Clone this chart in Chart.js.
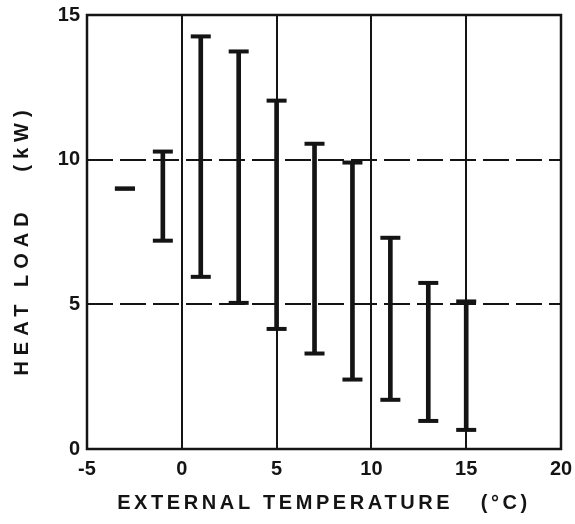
<!DOCTYPE html>
<html>
  <head>
    <meta charset="UTF-8" />
    <title>Heat Load</title>
    <script src="https://cdn.jsdelivr.net/npm/chart.js"></script>
    <style>
      html,
      body {
        margin: 0;
        padding: 0;
        background: #fff;
      }
      #wrap {
        width: 575px;
        height: 524px;
      }
    </style>
  </head>
  <body>
    <div id="wrap"><canvas id="heatChart"></canvas></div>
    <script>
      // external temperature (°C) and heat load range (kW)
      const temps = [-3, -1, 1, 3, 5, 7, 9, 11, 13, 15];
      const lows = [9.0, 7.2, 5.95, 5.05, 4.15, 3.3, 2.4, 1.7, 0.97, 0.66];
      const highs = [9.0, 10.28, 14.26, 13.74, 12.04, 10.55, 9.9, 7.3, 5.74, 5.1];
      const xTicks = [-5, 0, 5, 10, 15, 20];
      const yTicks = [0, 5, 10, 15];

      const ink = "#141414";
      const font = '"Liberation Sans", Arial, sans-serif';

      // box around the plot and the two axis titles
      const frame = {
        id: "frame",
        afterDraw(chart) {
          const { ctx, chartArea: a } = chart;
          ctx.save();
          ctx.strokeStyle = ink;
          ctx.lineWidth = 2.5;
          ctx.strokeRect(a.left, a.top, a.right - a.left, a.bottom - a.top);

          ctx.fillStyle = ink;
          ctx.font = "bold 20px " + font;
          ctx.letterSpacing = "3.6px";
          ctx.textAlign = "center";
          ctx.textBaseline = "middle";
          ctx.fillText("EXTERNAL TEMPERATURE   (°C)", (a.left + a.right) / 2, 503);

          ctx.translate(22, (a.top + a.bottom) / 2 + 8);
          ctx.rotate(-Math.PI / 2);
          ctx.letterSpacing = "6px";
          ctx.fillText("HEAT LOAD   (kW)", 0, 0);
          ctx.restore();
        },
      };

      const ctx = document.getElementById("heatChart").getContext("2d");
      new Chart(ctx, {
        type: "bar",
        data: {
          datasets: [
            {
              label: "range",
              data: temps.map((t, i) => ({ x: t, y: [lows[i], highs[i]] })),
              backgroundColor: ink,
              barThickness: 4,
              borderWidth: 0,
            },
            {
              type: "line",
              label: "max",
              data: temps.map((t, i) => ({ x: t, y: highs[i] })),
              showLine: false,
              pointStyle: "line",
              pointRadius: 10,
              borderWidth: 4,
              borderColor: ink,
            },
            {
              type: "line",
              label: "min",
              data: temps.map((t, i) => ({ x: t, y: lows[i] })),
              showLine: false,
              pointStyle: "line",
              pointRadius: 10,
              borderWidth: 4,
              borderColor: ink,
            },
          ],
        },
        options: {
          responsive: true,
          maintainAspectRatio: false,
          animation: false,
          layout: { padding: { top: 15, right: 8, left: 0, bottom: 0 } },
          plugins: {
            legend: { display: false },
            tooltip: { enabled: false },
          },
          scales: {
            x: {
              type: "linear",
              min: -5,
              max: 20,
              offset: false,
              afterBuildTicks: (s) => {
                s.ticks = xTicks.map((v) => ({ value: v }));
              },
              afterFit: (s) => {
                s.height = 75;
                s.paddingLeft = 0;
                s.paddingRight = 0;
              },
              grid: {
                color: ink,
                lineWidth: 2,
                drawTicks: false,
                offset: false,
              },
              border: { display: false },
              ticks: {
                color: ink,
                padding: 8,
                font: { family: font, size: 20, weight: "bold" },
              },
            },
            y: {
              min: 0,
              max: 15,
              afterBuildTicks: (s) => {
                s.ticks = yTicks.map((v) => ({ value: v }));
              },
              afterFit: (s) => {
                s.width = 87;
                s.paddingTop = 0;
                s.paddingBottom = 0;
              },
              grid: {
                color: (c) =>
                  c.tick && (c.tick.value === 5 || c.tick.value === 10)
                    ? ink
                    : "rgba(0,0,0,0)",
                lineWidth: 2,
                drawTicks: false,
              },
              border: { display: false, dash: [26, 7] },
              ticks: {
                color: ink,
                padding: 7,
                font: { family: font, size: 20, weight: "bold" },
              },
            },
          },
        },
        plugins: [frame],
      });
    </script>
  </body>
</html>
